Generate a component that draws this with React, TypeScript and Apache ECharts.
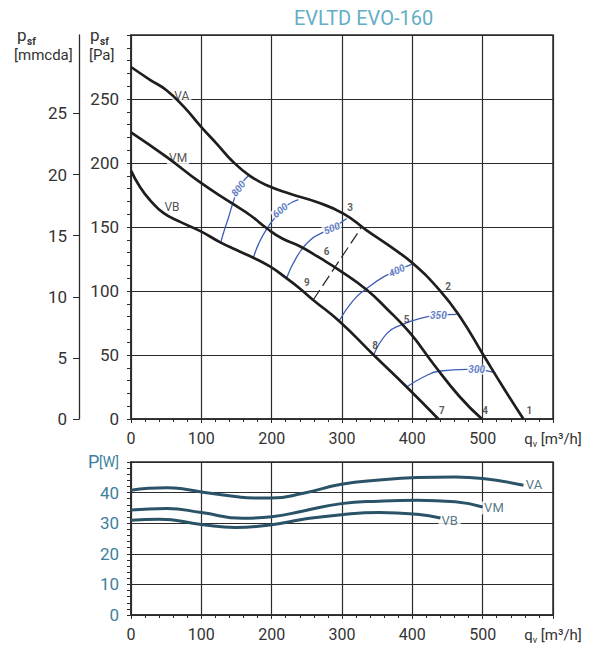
import React, { useEffect, useRef } from 'react';
import * as echarts from 'echarts';

const TITLE = 'EVLTD EVO-160';
const PA_PER_MMCDA = 9.55;
const FONT = 'Roboto, "DejaVu Sans", sans-serif';

// Pressure curves: [q (m3/h), psf (Pa)]
const pressVA = [[0,275],[27,265],[50,257],[75,244],[100,228],[122,215],[145,201],[169,190],[193,182.6],[226,176],[264,169.5],[302,160.5],[335,147.4],[368,135],[401,121.4],[439,100.5],[468,79.7],[501,50],[530,24],[558,0]];
const pressVM = [[0,224],[50,205],[98,185],[145,168],[170,159],[193,149],[215,141],[240,135],[268,126],[297,116],[335,101],[364,86],[397,67],[430,43],[468,17],[499,0]];
const pressVB = [[0,194],[13,181],[27,171],[46,161],[70,154],[98,147],[127,138],[150,132],[174,126],[198,119],[221,110],[240,102],[259,93],[297,76],[345,50],[392,25],[437,0]];

// Iso lines (blue)
const iso800 = [[127.6,138],[133,148],[138.4,157],[145,169],[152.6,180],[160,186],[167,190]];
const iso600 = [[174,126],[181.6,137],[193.5,149],[207.7,159],[222,167],[238,171.4]];
const iso500 = [[221,109.7],[235.5,126.5],[254.6,139.6],[270,145],[285.5,149],[306.8,156.6]];
const iso400 = [[295,75.8],[316,92.7],[335,101.9],[359,111],[378,116],[401.5,121.4]];
const iso350 = [[345,50],[363.6,66.7],[382.6,73.2],[415.8,79.2],[437,81],[463,81.8]];
const iso300 = [[392,25],[415.8,32.8],[439.5,37.5],[477.5,38.8],[491.5,38.6],[517.8,36.2]];
const dashed93 = [[259,93],[328,150]];

// Labels on the pressure chart
const isoLabels = [
  { name: '800', value: [152.6, 180], rotate: 52 },
  { name: '600', value: [212, 163], rotate: 40 },
  { name: '500', value: [285.5, 149], rotate: 22 },
  { name: '400', value: [378, 116], rotate: 25 },
  { name: '350', value: [437, 81], rotate: 0 },
  { name: '300', value: [491.5, 38.6], rotate: 0 },
];
const pointLabels = [
  { name: '1', value: [566.5, 6.3] },
  { name: '2', value: [451, 103.6] },
  { name: '3', value: [311.5, 165] },
  { name: '4', value: [503.6, 6.3] },
  { name: '5', value: [392, 78] },
  { name: '6', value: [278, 131] },
  { name: '7', value: [442, 6.3] },
  { name: '8', value: [347, 57.6] },
  { name: '9', value: [250, 107] },
];
const pressCurveLabels = [
  { name: 'VA', value: [72.3, 252] },
  { name: 'VM', value: [66.9, 203.7] },
  { name: 'VB', value: [58.3, 166] },
];

// Power curves: [q (m3/h), P (W)]
const powerVA = [[0,40.8],[25,41.4],[51,41.6],[75,41.2],[100,40.2],[148,38.7],[175,38.2],[200,38.2],[245,39.8],[299,42.7],[353,44.1],[407,44.9],[461,45.1],[500,44.6],[558,42.4]];
const powerVM = [[0,34.3],[51,34.8],[100,33.5],[159,31.6],[200,32.1],[245,34.0],[299,36.4],[353,37.2],[407,37.5],[461,37.0],[500,35.3]];
const powerVB = [[0,31.0],[40,31.3],[100,29.6],[148,28.6],[200,29.5],[245,31.3],[299,32.8],[353,33.5],[407,32.9],[440,31.7]];
const powerCurveLabels = [
  { name: 'VA', value: [573, 42.5] },
  { name: 'VM', value: [516, 35] },
  { name: 'VB', value: [453, 31] },
];

const Q_MAX = 600;
const PA_MAX = 300;
const W_MAX = 50;
const MMCDA_TICKS = [0, 5, 10, 15, 20, 25];

const GRID_COLOR = '#2b2b2b';
const BLUE = '#3d5fb8';
const TEAL_LINE = '#2a5368';
const TEAL_TEXT = '#3d7f9c';

const qFormatter = (v: number) => (v === Q_MAX ? '{q|q}{s|v}{q| [m³/h]}' : String(v));
const qRich = {
  q: { fontSize: 15, fontFamily: FONT, color: '#333' },
  s: { fontSize: 9, fontFamily: FONT, color: '#333', padding: [9, 0, 0, 0] },
};

function xAxis(gridIndex: number) {
  return {
    type: 'value', gridIndex, min: 0, max: Q_MAX, interval: 100,
    axisLine: { show: true, lineStyle: { color: GRID_COLOR, width: 1.5 } },
    axisTick: { show: true, inside: false, length: 4, lineStyle: { color: GRID_COLOR } },
    minorTick: { show: true, splitNumber: 5, length: 3, lineStyle: { color: GRID_COLOR } },
    splitLine: { show: true, lineStyle: { color: GRID_COLOR, width: 1.2 } },
    axisLabel: { margin: 11, fontSize: 16, fontFamily: FONT, color: '#333', formatter: qFormatter, rich: qRich },
  };
}

function lineSeries(data: number[][], xi: number, yi: number, color: string, width: number, z: number) {
  return {
    type: 'line', xAxisIndex: xi, yAxisIndex: yi, data, smooth: 0.5,
    showSymbol: false, symbol: 'none', z, silent: true,
    lineStyle: { color, width },
  };
}

export default function App() {
  const ref = useRef<HTMLDivElement>(null);
  useEffect(() => {
    if (!ref.current) return;
    const chart = echarts.init(ref.current, undefined, { renderer: 'svg' });
    const option: any = {
      animation: false,
      backgroundColor: '#fff',
      title: {
        text: TITLE, left: 289, top: 3,
        textStyle: { fontSize: 20, fontWeight: 'normal', fontFamily: FONT, color: '#64aec4' },
      },
      grid: [
        { left: 131, top: 35, width: 422, height: 384, show: true, borderColor: GRID_COLOR, borderWidth: 1.5 },
        { left: 131, top: 462, width: 422, height: 153, show: true, borderColor: GRID_COLOR, borderWidth: 1.5 },
      ],
      xAxis: [xAxis(0), xAxis(1)],
      yAxis: [
        {
          type: 'value', gridIndex: 0, min: 0, max: PA_MAX, interval: 50,
          axisLine: { show: true, lineStyle: { color: GRID_COLOR, width: 1.5 } },
          axisTick: { show: true, length: 4, lineStyle: { color: GRID_COLOR } },
          minorTick: { show: true, splitNumber: 5, length: 4, lineStyle: { color: GRID_COLOR } },
          splitLine: { show: true, lineStyle: { color: GRID_COLOR, width: 1.2 } },
          axisLabel: { margin: 12, fontSize: 17, fontFamily: FONT, color: '#333', formatter: (v: number) => (v === PA_MAX ? '' : String(v)) },
        },
        {
          type: 'value', gridIndex: 0, min: 0, max: PA_MAX / PA_PER_MMCDA, position: 'left', offset: 52,
          axisLine: { show: true, onZero: false, lineStyle: { color: GRID_COLOR, width: 1.3 } },
          axisTick: { show: true, length: 6, customValues: MMCDA_TICKS, lineStyle: { color: GRID_COLOR } },
          splitLine: { show: false },
          axisLabel: { margin: 12, fontSize: 17, fontFamily: FONT, color: '#333', customValues: MMCDA_TICKS },
        },
        {
          type: 'value', gridIndex: 1, min: 0, max: W_MAX, interval: 10,
          axisLine: { show: true, lineStyle: { color: GRID_COLOR, width: 1.5 } },
          axisTick: { show: true, length: 4, lineStyle: { color: GRID_COLOR } },
          minorTick: { show: true, splitNumber: 5, length: 4, lineStyle: { color: GRID_COLOR } },
          splitLine: { show: true, lineStyle: { color: GRID_COLOR, width: 1.2 } },
          axisLabel: { margin: 12, fontSize: 17, fontFamily: FONT, color: TEAL_TEXT, formatter: (v: number) => (v === W_MAX ? '' : String(v)) },
        },
      ],
      graphic: [
        { type: 'text', left: 17, top: 26, style: { text: 'p', fontSize: 17, fontFamily: FONT, fill: '#333' } },
        { type: 'text', left: 27, top: 36, style: { text: 'sf', fontSize: 10, fontFamily: FONT, fill: '#333', fontWeight: 'bold' } },
        { type: 'text', left: 14, top: 47, style: { text: '[mmcda]', fontSize: 15, fontFamily: FONT, fill: '#333' } },
        { type: 'text', left: 90, top: 26, style: { text: 'p', fontSize: 17, fontFamily: FONT, fill: '#333' } },
        { type: 'text', left: 100, top: 36, style: { text: 'sf', fontSize: 10, fontFamily: FONT, fill: '#333', fontWeight: 'bold' } },
        { type: 'text', left: 89, top: 47, style: { text: '[Pa]', fontSize: 15, fontFamily: FONT, fill: '#333' } },
        { type: 'text', left: 88, top: 452, style: { text: 'P', fontSize: 18, fontFamily: FONT, fill: TEAL_TEXT } },
        { type: 'text', left: 99, top: 455, style: { text: '[W]', fontSize: 14, fontFamily: FONT, fill: TEAL_TEXT } },
      ],
      series: [
        lineSeries(iso800, 0, 0, BLUE, 1.3, 2),
        lineSeries(iso600, 0, 0, BLUE, 1.3, 2),
        lineSeries(iso500, 0, 0, BLUE, 1.3, 2),
        lineSeries(iso400, 0, 0, BLUE, 1.3, 2),
        lineSeries(iso350, 0, 0, BLUE, 1.3, 2),
        lineSeries(iso300, 0, 0, BLUE, 1.3, 2),
        {
          type: 'line', xAxisIndex: 0, yAxisIndex: 0, data: dashed93, showSymbol: false, symbol: 'none', z: 2, silent: true,
          lineStyle: { color: '#222', width: 1.2, type: [12, 5] },
        },
        {
          type: 'scatter', xAxisIndex: 0, yAxisIndex: 0, symbolSize: 0, z: 3, silent: true,
          data: isoLabels.map((d) => ({ name: d.name, value: d.value, label: { rotate: d.rotate } })),
          label: {
            show: true, position: 'inside', formatter: '{b}', fontSize: 10, fontWeight: 'bold', fontStyle: 'italic',
            fontFamily: FONT, color: BLUE, backgroundColor: '#fff', padding: [0, 1],
          },
        },
        {
          type: 'scatter', xAxisIndex: 0, yAxisIndex: 0, symbolSize: 0, z: 3, silent: true,
          data: pointLabels,
          label: { show: true, position: 'inside', formatter: '{b}', fontSize: 10, fontWeight: 'bold', fontFamily: FONT, color: '#333' },
        },
        {
          type: 'scatter', xAxisIndex: 0, yAxisIndex: 0, symbolSize: 0, z: 3, silent: true,
          data: pressCurveLabels,
          label: {
            show: true, position: 'inside', formatter: '{b}', fontSize: 12, fontFamily: FONT, color: '#222',
            backgroundColor: '#fff', padding: [0, 2],
          },
        },
        lineSeries(pressVA, 0, 0, '#1e1e1e', 2.7, 4),
        lineSeries(pressVM, 0, 0, '#1e1e1e', 2.7, 4),
        lineSeries(pressVB, 0, 0, '#1e1e1e', 2.7, 4),
        {
          type: 'scatter', xAxisIndex: 1, yAxisIndex: 2, symbolSize: 0, z: 3, silent: true,
          data: powerCurveLabels,
          label: {
            show: true, position: 'inside', formatter: '{b}', fontSize: 13, fontFamily: FONT, color: TEAL_LINE,
            backgroundColor: '#fff', padding: [0, 3],
          },
        },
        lineSeries(powerVA, 1, 2, TEAL_LINE, 3, 4),
        lineSeries(powerVM, 1, 2, TEAL_LINE, 3, 4),
        lineSeries(powerVB, 1, 2, TEAL_LINE, 3, 4),
      ],
    };
    chart.setOption(option);
    return () => chart.dispose();
  }, []);
  return (
    <div
      ref={ref}
      style={{ position: 'absolute', left: 0, top: 0, width: 594, height: 650, background: '#fff' }}
    />
  );
}
